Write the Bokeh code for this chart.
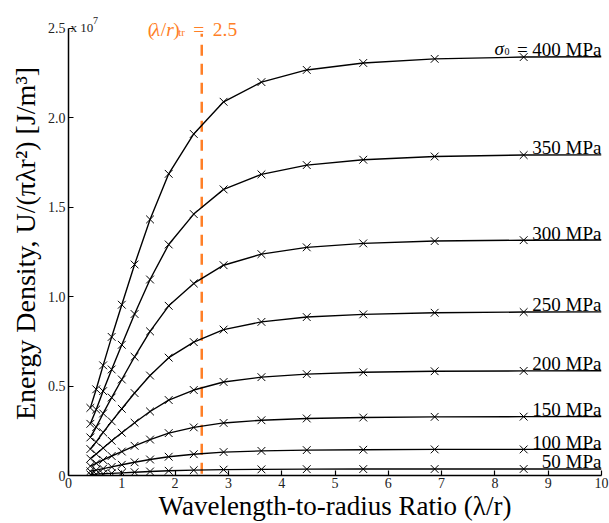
from bokeh.plotting import figure
from bokeh.models import Range1d, FixedTicker
from bokeh.core.properties import value
from bokeh.embed import file_html
from bokeh.resources import INLINE

# ---- data (energy density in units of 1e7 J/m^3) ----
x_pts = [0.41, 0.52, 0.65, 0.81, 1.0, 1.24, 1.53, 1.88, 2.35, 2.91, 3.62, 4.47, 5.53, 6.87, 8.54]
x_end = 10.0

u400 = [0.378, 0.482, 0.616, 0.775, 0.955, 1.18, 1.432, 1.687, 1.91, 2.09, 2.20, 2.268, 2.307, 2.33, 2.34]
u350 = [0.289, 0.369, 0.472, 0.593, 0.731, 0.903, 1.096, 1.292, 1.462, 1.600, 1.684, 1.736, 1.766, 1.784, 1.792]
u300 = [0.213, 0.271, 0.347, 0.436, 0.537, 0.664, 0.806, 0.949, 1.074, 1.176, 1.238, 1.276, 1.298, 1.311, 1.316]
u250 = [0.148, 0.188, 0.241, 0.303, 0.373, 0.461, 0.559, 0.659, 0.746, 0.816, 0.859, 0.886, 0.901, 0.910, 0.914]
u200 = [0.0945, 0.1205, 0.154, 0.194, 0.239, 0.295, 0.358, 0.422, 0.478, 0.523, 0.550, 0.567, 0.577, 0.583, 0.585]
u150 = [0.053, 0.068, 0.087, 0.109, 0.134, 0.166, 0.201, 0.237, 0.269, 0.294, 0.309, 0.319, 0.324, 0.328, 0.329]
u100 = [0.0236, 0.030, 0.0385, 0.048, 0.060, 0.074, 0.0895, 0.105, 0.119, 0.131, 0.1375, 0.142, 0.144, 0.146, 0.146]
u50 = [0.0059, 0.0075, 0.0096, 0.0121, 0.0149, 0.0184, 0.0224, 0.0264, 0.0298, 0.0327, 0.0344, 0.0354, 0.036, 0.0364, 0.0366]

# value of each curve where it ends at x = 10
u_end = [2.342, 1.793, 1.317, 0.915, 0.586, 0.330, 0.147, 0.0367]

series = [u400, u350, u300, u250, u200, u150, u100, u50]
stress_labels = ["= 400 MPa", "350 MPa", "300 MPa", "250 MPa", "200 MPa", "150 MPa", "100 MPa", "50 MPa"]

lambda_r_tr = 2.5
tr_line_top = 2.47

y_ticks = [0, 0.5, 1.0, 1.5, 2.0, 2.5]
y_tick_labels = ["0", "0.5", "1.0", "1.5", "2.0", "2.5"]
x_ticks = list(range(0, 11))

SERIF = "'Liberation Serif', 'Times New Roman', Times, serif"
ORANGE = "#ff7f27"

p = figure(width=609, height=523, output_backend="svg", toolbar_location=None,
           x_range=Range1d(0, 10), y_range=Range1d(0, 2.634),
           min_border_left=68, min_border_right=8, min_border_top=4, min_border_bottom=46)
p.outline_line_color = None
p.grid.visible = False
p.background_fill_color = "white"
p.border_fill_color = "white"

for ax in (p.xaxis[0], p.yaxis[0]):
    ax.axis_line_color = "black"
    ax.axis_line_width = 1.5
    ax.major_tick_in = 5
    ax.major_tick_out = 0
    ax.major_tick_line_color = "black"
    ax.major_tick_line_width = 1.2
    ax.minor_tick_line_color = None
    ax.major_label_text_font = SERIF
    ax.major_label_text_font_size = "14px"
    ax.major_label_text_color = "#222222"
    ax.major_label_standoff = 2
    ax.axis_label_text_font = SERIF
    ax.axis_label_text_font_style = "normal"
    ax.axis_label_text_font_size = "27px"
    ax.axis_label_text_color = "black"
    ax.axis_label_standoff = 2

p.xaxis[0].ticker = FixedTicker(ticks=x_ticks)
p.yaxis[0].ticker = FixedTicker(ticks=y_ticks)
p.yaxis[0].major_label_overrides = {t: l for t, l in zip(y_ticks, y_tick_labels)}
p.yaxis[0].bounds = (0, 2.5)
p.yaxis[0].major_label_standoff = 3
p.yaxis[0].axis_label_text_font_size = "28px"
p.yaxis[0].axis_label_standoff = 4
p.xaxis[0].axis_label = "Wavelength-to-radius Ratio (\u03bb/r)"
p.yaxis[0].axis_label = "Energy Density, U/(\u03c0\u03bbr\u00b2)  [J/m\u00b3]"
p.xaxis[0].axis_label_standoff = 0

# transition line
p.line(x=[lambda_r_tr, lambda_r_tr], y=[0.01, tr_line_top], line_color=ORANGE,
       line_width=2.5, line_dash="11 8")

# curves
for vals, ve in zip(series, u_end):
    p.line(x=x_pts + [x_end], y=vals + [ve], line_color="black", line_width=1.4)
    p.scatter(x=x_pts, y=vals, marker="x", size=11, line_color="black", line_width=1)

# stress labels
p.text(x=[x_end] * len(u_end), y=u_end, text=stress_labels, text_align="right",
       text_baseline="alphabetic", y_offset=-7, text_font=value(SERIF),
       text_font_size="19px", text_color="black")
p.text(x=[x_end], y=[u_end[0]], text=["\u03c3"], text_align="left", text_baseline="alphabetic",
       x_offset=-107, y_offset=-8, text_font=value(SERIF), text_font_style="italic",
       text_font_size="19px", text_color="black")
p.text(x=[x_end], y=[u_end[0]], text=["0"], text_align="left", text_baseline="alphabetic",
       x_offset=-97, y_offset=-5, text_font=value(SERIF),
       text_font_size="10px", text_color="black")

# (lambda/r)_tr = 2.5 label
pieces = [("(", -54, "normal", "19.5px", 0), ("\u03bb", -50, "italic", "19.5px", 0),
          ("/", -41, "normal", "19.5px", 0), ("r", -35.5, "italic", "19.5px", 0),
          (")", -28.5, "normal", "19.5px", 0), ("tr", -23.5, "normal", "11px", 3),
          ("=", -8.5, "normal", "19.5px", 0), ("2.5", 11, "normal", "19.5px", 0)]
for t, xo, st, fs, yo in pieces:
    p.text(x=[lambda_r_tr], y=[2.5], text=[t], text_align="left", text_baseline="alphabetic",
           x_offset=xo, y_offset=1 + yo, text_font=value(SERIF), text_font_style=st,
           text_font_size=fs, text_color=ORANGE)

# x 10^7 multiplier
p.text(x=[0], y=[2.5], text=["x 10"], text_align="left", text_baseline="alphabetic",
       x_offset=2, y_offset=-1, text_font=value(SERIF), text_font_size="13px", text_color="#222222")
p.text(x=[0], y=[2.5], text=["7"], text_align="left", text_baseline="alphabetic",
       x_offset=24.5, y_offset=-8, text_font=value(SERIF), text_font_size="10px", text_color="#222222")

open("out.html", "w").write(file_html(p, INLINE))
